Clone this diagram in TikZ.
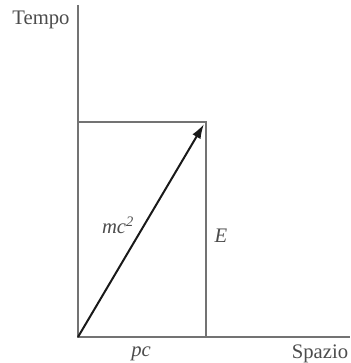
\documentclass[tikz,border=0pt]{standalone}
\usepackage{fontspec}
\setmainfont{Liberation Serif}
\tikzset{
  axisline/.style={draw=black!55, line width=1.4pt},
  vecline/.style={draw=black!90, line width=1.5pt, -{Latex[length=11pt,width=7pt]}},
  lbl/.style={font=\fontsize{15.5}{18}\selectfont, text=black!70}
}
\usetikzlibrary{arrows.meta}
\begin{document}
\begin{tikzpicture}[x=0.75pt,y=0.75pt]
        \useasboundingbox (0,0) rectangle (350,363);
        % Axes
        \coordinate (O) at (78,26);
        \coordinate (ttop) at (78,358);
        \coordinate (send) at (350,26);
        \coordinate (R) at (206,241);
        \draw[axisline] (ttop) -- (O) -- (send);
        % Box
        \draw[axisline] (O |- R) -- (R) -- (R |- O);
        % Vector
        \coordinate (tip) at (204,239);
        \draw[vecline] (O) -- (tip);
        % Labels
        \node[lbl] (tempo) at (41,343) {Tempo};
        \node[lbl] (spazio) at (320,9) {Spazio};
        \node[lbl] (pc) at (141,9) {\itshape pc};
        \node[lbl] (E) at (221,127) {\itshape E};
        \node[lbl] (mc) at (118,138) {\itshape mc\textsuperscript{2}};
    \end{tikzpicture}
\end{document}
